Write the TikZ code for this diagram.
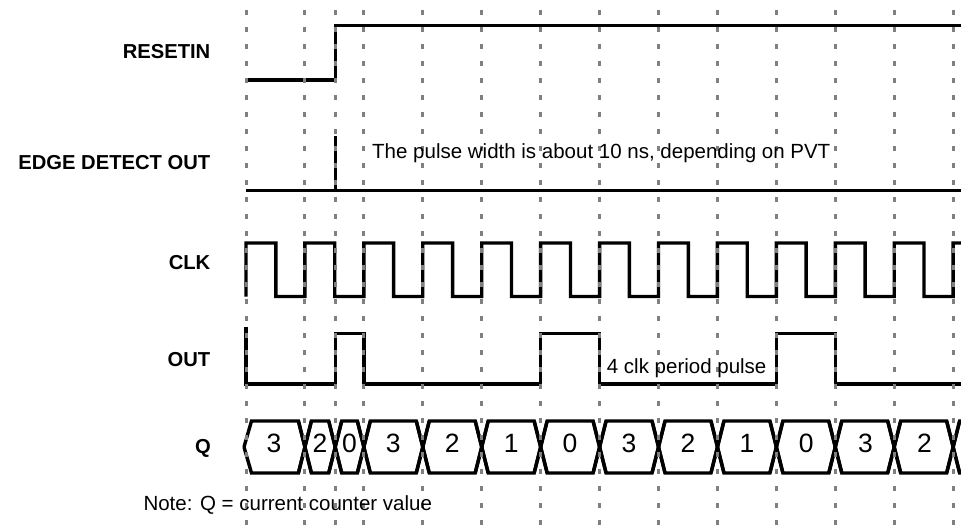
\documentclass[tikz,border=0pt]{standalone}
\usepackage{fontspec}
\setmainfont{Liberation Sans}
\definecolor{gridgray}{RGB}{128,128,128}
\begin{document}
\begin{tikzpicture}[x=1pt,y=-1pt,
  sig/.style={line width=3.4pt, line join=miter, black},
  gridline/.style={line width=3pt, draw=gridgray, dash pattern=on 5pt off 12pt},
  lab/.style={font=\fontsize{20.2}{24}\selectfont\bfseries, anchor=east, inner sep=0pt},
  txt/.style={font=\fontsize{20.5}{24}\selectfont, anchor=base west, inner sep=0pt},
  dig/.style={font=\fontsize{26.5}{30}\selectfont, anchor=base, inner sep=0pt}]
\useasboundingbox (0,0) rectangle (961,527);

% ---- RESETIN
\draw[sig] (246,80) -- (335.5,80) -- (335.5,25.5) -- (961,25.5);

% ---- EDGE DETECT OUT
\draw[sig] (246,190.5) -- (961,190.5);
\draw[sig] (335.5,136) -- (335.5,190.5);

% ---- CLK
\draw[sig] (246,296.5)
  \foreach \k in {0,...,11} {
    -- ({246+58.93*\k},243) -- ({275.8+58.93*\k},243)
    -- ({275.8+58.93*\k},296.5) -- ({304.93+58.93*\k},296.5) }
  -- (953.16,243) -- (961,243);

% ---- OUT
\draw[sig] (246,327) -- (246,384) -- (335.5,384) -- (335.5,333.5) -- (364,333.5)
  -- (364,384) -- (540.65,384) -- (540.65,333.5) -- (599.58,333.5) -- (599.58,384)
  -- (776.37,384) -- (776.37,333.5) -- (835.3,333.5) -- (835.3,384) -- (961,384);

% ---- Q bus
\def\w{6.5}
\draw[sig] (244,447) -- (251.5,421) -- ({304.93-\w},421) -- ({304.93+\w},473);
\draw[sig] (244,447) -- (251.5,473) -- ({304.93-\w},473) -- ({304.93+\w},421);
\foreach \a/\b in {304.93/335.2, 335.2/363.86, 363.86/422.79, 422.79/481.72,
                   481.72/540.65, 540.65/599.58, 599.58/658.51, 658.51/717.44,
                   717.44/776.37, 776.37/835.3, 835.3/894.23, 894.23/953.16} {
  \draw[sig] ({\a-\w},473) -- ({\a+\w},421) -- ({\b-\w},421) -- ({\b+\w},473);
  \draw[sig] ({\a-\w},421) -- ({\a+\w},473) -- ({\b-\w},473) -- ({\b+\w},421);
}
\draw[sig] ({953.16-\w},473) -- ({953.16+\w},421) -- (961,421);
\draw[sig] ({953.16-\w},421) -- ({953.16+\w},473) -- (961,473);

% ---- grid
\foreach \x in {246, 304.93, 335.2, 363.86, 422.79, 481.72, 540.65, 599.58,
                658.51, 717.44, 776.37, 835.3, 894.23, 953.16}
  \draw[gridline] (\x,10) -- (\x,527);

% ---- digits
\foreach \x/\v [count=\i] in {274/3, 320/2, 349.5/0, 393.3/3, 452.3/2, 511.2/1, 570.1/0,
                   629/3, 688/2, 747/1, 806.3/0, 865.5/3, 924.5/2}
  \node[dig] (q\i) at (\x,452.5) {\v};

% ---- labels
\node[lab] (lreset) at (210.5,52) {RESETIN};
\node[lab] (ledge)  at (210.5,163) {EDGE DETECT OUT};
\node[lab] (lclk)   at (210.5,263) {CLK};
\node[lab] (lout)   at (210.5,360) {OUT};
\node[lab] (lq)     at (211,448) {Q};

% ---- texts
\node[txt] (tpulse) at (372,158.3) {The pulse width is about 10 ns, depending on PVT};
\node[txt] (tfour)  at (606.7,373.3) {4 clk period pulse};
\node[txt] (tnote)  at (143.3,510) {Note: Q = current counter value};
\end{tikzpicture}
\end{document}
